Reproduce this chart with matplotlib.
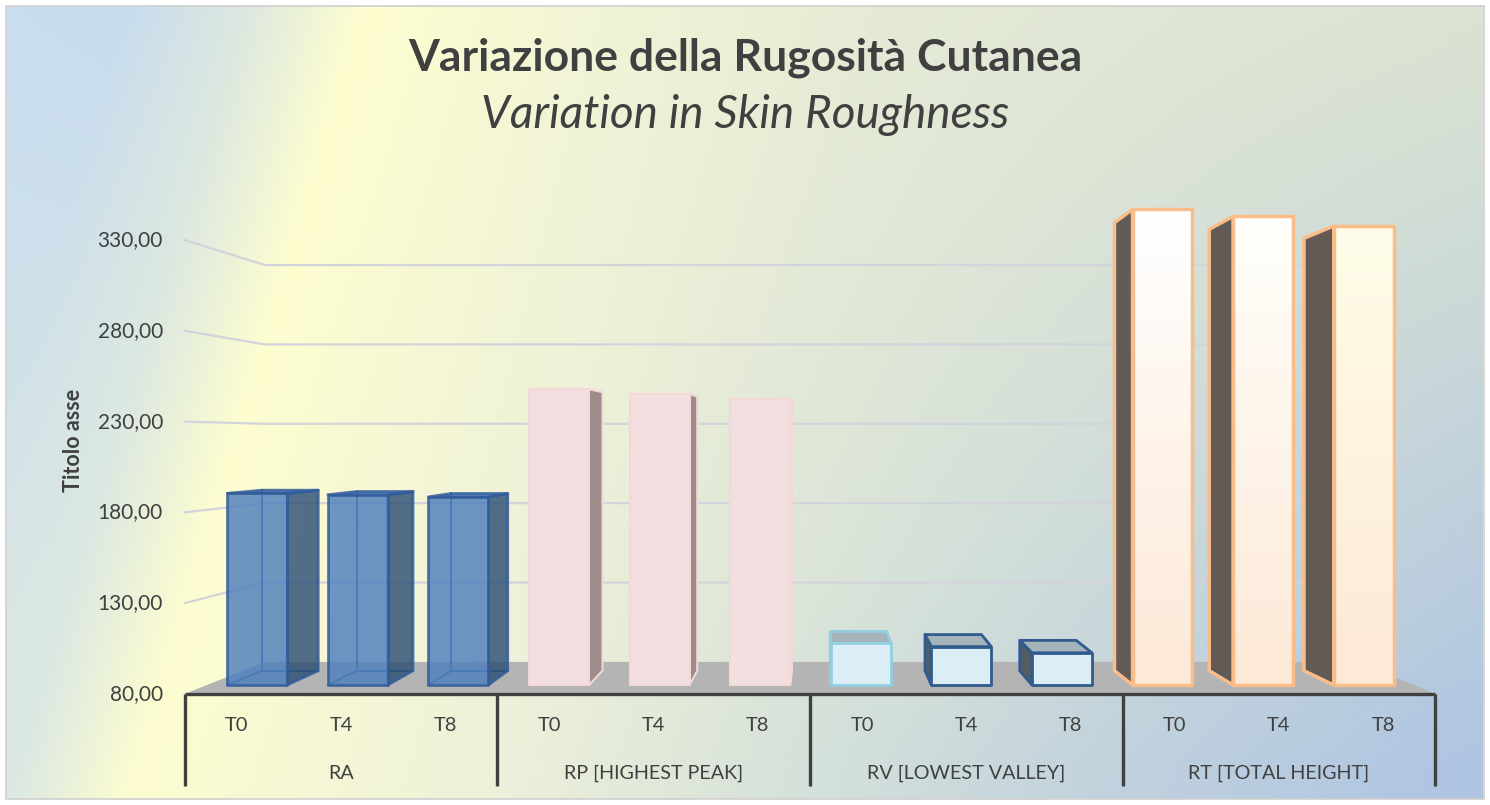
import numpy as np
import matplotlib.pyplot as plt
from matplotlib.patches import Polygon, Rectangle
from matplotlib.colors import to_rgb
from matplotlib.transforms import offset_copy

plt.rcParams['font.family'] = ['Lato', 'DejaVu Sans']

# data
groups = ['RA', 'RP [HIGHEST PEAK]', 'RV [LOWEST VALLEY]', 'RT [TOTAL HEIGHT]']
times = ['T0', 'T4', 'T8']
ra = [189.4, 188.6, 187.4]
rp = [248.8, 246.1, 243.4]
rv = [103.8, 101.9, 98.4]
rt = [351.5, 347.5, 342.0]
yticks = [80, 130, 180, 230, 280, 330]
ytick_labels = ['80,00', '130,00', '180,00', '230,00', '280,00', '330,00']

W, H = 1490, 805
YMIN = 80

# pixel anchors of the bar front plane
PX_X0, PX_SLOT = 207, 100.58
PX_Y0, PX_UNIT = 685, 1.752
xlim = (-0.5 - PX_X0 / PX_SLOT, -0.5 + (W - PX_X0) / PX_SLOT)
ylim = (YMIN - (H - PX_Y0) / PX_UNIT, YMIN + PX_Y0 / PX_UNIT)

# fake 3d perspective
VX, VY = 5.61, 220.4
S_FRONT, S_BACK, S_WALL = 1.036, 0.942, 0.906
HW = 0.298


def proj(x, y, s):
    return (VX + (x - VX) * s, VY + (y - VY) * s)


def background():
    top_x = [0, 130, 250, 367, 600, 900, 1200, 1490, 1900]
    top_c = ['#c9ddf1', '#c8dcee', '#dde8df', '#fefed0', '#f1f4d6', '#e4ead5',
             '#dfe6d4', '#dbe3d2', '#d8e2d4']
    bot_x = [0, 244, 368, 725, 1035, 1368, 1655, 1900]
    bot_c = ['#dae7e4', '#dae7e4', '#fdfdd0', '#eef1da', '#d5e1da', '#c0d1de',
             '#b0c6e2', '#aac2e2']
    xx, yy = np.meshgrid(np.arange(W), np.arange(H))
    xp = xx + 0.3 * yy
    t = np.clip(yy / 760, 0, 1)[..., None]
    top = np.stack([np.interp(xp, top_x, [to_rgb(c)[k] for c in top_c]) for k in range(3)], -1)
    bot = np.stack([np.interp(xp, bot_x, [to_rgb(c)[k] for c in bot_c]) for k in range(3)], -1)
    img = top * (1 - t) + bot * t
    mask = (xx < 7) | (xx > 1482) | (yy < 7) | (yy > 798)
    img[mask] = 1.0
    return img


def draw_bar(ax, x, v, face, side, top, edge, lw=1.5, alpha=1.0, inner=None, grad=None):
    xl, xr = x - HW, x + HW
    y0, y1 = YMIN, v
    if inner is not None:
        bl0, bl1 = proj(xl, y0, S_BACK), proj(xl, y1, S_BACK)
        br0 = proj(xr, y0, S_BACK)
        ax.plot([bl0[0], bl1[0]], [bl0[1], bl1[1]], color=inner, lw=1.4, zorder=4)
        ax.plot([bl0[0], br0[0]], [bl0[1], br0[1]], color=inner, lw=1.4, zorder=4)
        ax.plot([xl, bl0[0]], [y0, bl0[1]], color=inner, lw=1.4, zorder=4)
    if xr < VX:
        pts = [(xr, y0), (xr, y1), proj(xr, y1, S_BACK), proj(xr, y0, S_BACK)]
    else:
        pts = [(xl, y0), (xl, y1), proj(xl, y1, S_BACK), proj(xl, y0, S_BACK)]
    ax.add_patch(Polygon(pts, closed=True, facecolor=side, edgecolor=edge, lw=lw,
                         alpha=alpha, zorder=5, joinstyle='round'))
    if y1 < VY:
        pts = [(xl, y1), (xr, y1), proj(xr, y1, S_BACK), proj(xl, y1, S_BACK)]
        ax.add_patch(Polygon(pts, closed=True, facecolor=top, edgecolor=edge, lw=lw,
                             alpha=alpha, zorder=5, joinstyle='round'))
    if grad is not None:
        c0, c1 = np.array(to_rgb(grad[0])), np.array(to_rgb(grad[1]))
        g = np.linspace(0, 1, 64)[:, None, None]
        img = c0 * (1 - g) + c1 * g
        ax.imshow(img, extent=(xl, xr, y0, y1), origin='upper', aspect='auto',
                  zorder=6, interpolation='bilinear')
        ax.add_patch(Rectangle((xl, y0), 2 * HW, y1 - y0, facecolor='none',
                               edgecolor=edge, lw=lw, zorder=7, joinstyle='round'))
    else:
        ax.add_patch(Rectangle((xl, y0), 2 * HW, y1 - y0, facecolor=face, edgecolor=edge,
                               lw=lw, alpha=alpha, zorder=6, joinstyle='round'))


fig = plt.figure(figsize=(W / 100, H / 100), dpi=100)
ax = fig.add_axes([0, 0, 1, 1])
ax.set_axis_off()
ax.imshow(background(), extent=(xlim[0], xlim[1], ylim[0], ylim[1]), origin='upper',
          aspect='auto', zorder=0)
fig.patches.append(Rectangle((6.5 / W, 6.5 / H), (W - 13) / W, (H - 13) / H,
                             transform=fig.transFigure, fill=False, edgecolor='#cfcfcf', lw=1.2))

n = len(groups) * len(times)
x_left, x_right = -0.5, n - 0.5

# walls: gridlines
for v in yticks[1:]:
    p0 = proj(x_left, v, S_FRONT)
    p1 = proj(x_left, v, S_WALL)
    p2 = proj(x_right, v, S_WALL)
    ax.plot([p0[0], p1[0], p2[0]], [p0[1], p1[1], p2[1]], color='#d3d3dc', lw=1.6, zorder=2)

# floor
floor = [proj(x_left, YMIN, S_FRONT), proj(x_right, YMIN, S_FRONT),
         proj(x_right, YMIN, S_WALL), proj(x_left, YMIN, S_WALL)]
ax.add_patch(Polygon(floor, closed=True, facecolor='#b4b4b4', edgecolor='none', zorder=3))

# bars
xs = np.arange(n)
for i, v in enumerate(ra):
    draw_bar(ax, xs[i], v, '#4f7fbd', '#2e4f75', '#4f7fbd', '#2f5b9a', lw=2.0,
             alpha=0.82, inner='#3b6aa8')
for i, v in enumerate(rp):
    draw_bar(ax, xs[3 + i], v, '#f3dfdf', '#9e8c8b', '#f3dfdf', '#f3d8d8', lw=1.5)
rv_edges = ['#92cfe0', '#2f5b8f', '#2f5b8f']
for i, v in enumerate(rv):
    draw_bar(ax, xs[6 + i], v, '#dbeef5', '#545c61', '#a5b3ba', rv_edges[i], lw=2.0)
rt_tops = ['#ffffff', '#fffffb', '#fffde9']
for i, v in enumerate(rt):
    draw_bar(ax, xs[9 + i], v, '#fff4e8', '#625a55', '#625a55', '#f9bd8a', lw=2.5,
             grad=(rt_tops[i], '#fde9d7'))

# category axis
f0 = proj(x_left, YMIN, S_FRONT)
f1 = proj(x_right, YMIN, S_FRONT)
ax.plot([f0[0], f1[0]], [f0[1], f1[1]], color='#404040', lw=2.4, zorder=8,
        solid_capstyle='butt')
y_sep_bottom = YMIN - (786 - PX_Y0) / PX_UNIT
y_tick_row = YMIN - (725 - PX_Y0) / PX_UNIT
y_group_row = YMIN - (773 - PX_Y0) / PX_UNIT
for b in np.arange(len(groups) + 1) * len(times) - 0.5:
    bx = proj(b, YMIN, S_FRONT)[0]
    ax.plot([bx, bx], [f0[1], y_sep_bottom], color='#404040', lw=2.4, zorder=8,
            solid_capstyle='butt')
for i in range(n):
    tx = proj(xs[i], YMIN, S_FRONT)[0]
    ax.text(tx, y_tick_row, times[i % 3], ha='center', va='center', fontsize=14.5,
            color='#404040', zorder=9)
for g, name in enumerate(groups):
    gx = proj(g * 3 + 1, YMIN, S_FRONT)[0]
    ax.text(gx, y_group_row, name, ha='center', va='center', fontsize=14.2,
            color='#404040', zorder=9)

# value axis labels
lab_tr = offset_copy(ax.transData, fig=fig, x=-22, y=0, units='dots')
for v, lab in zip(yticks, ytick_labels):
    p = proj(x_left, v, S_FRONT)
    ax.text(p[0], p[1], lab, ha='right', va='center', fontsize=15, color='#404040',
            transform=lab_tr, zorder=9)

fig.text(74 / W, 1 - 440 / H, 'Titolo asse', rotation=90, ha='center', va='center',
         fontsize=15.5, fontweight='bold', color='#404040')
fig.text(745 / W, 1 - 58 / H, 'Variazione della Rugosità Cutanea', ha='center', va='center',
         fontsize=32, fontweight='bold', color='#404040')
fig.text(745 / W, 1 - 115 / H, 'Variation in Skin Roughness', ha='center', va='center',
         fontsize=33, fontstyle='italic', color='#404040')

ax.set_xlim(*xlim)
ax.set_ylim(*ylim)
fig.savefig('out.png', dpi=100)
